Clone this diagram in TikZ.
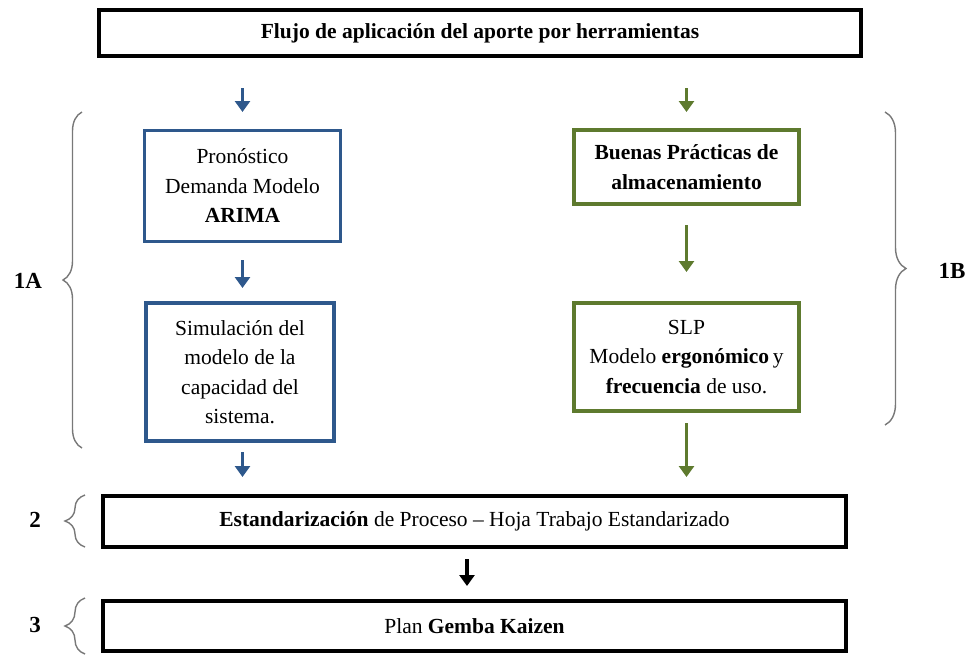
\documentclass[tikz,border=0pt]{standalone}
\usepackage{fontspec}
\setmainfont{Liberation Serif}
\usetikzlibrary{arrows.meta,decorations.pathreplacing}
\definecolor{bblue}{RGB}{46,88,140}
\definecolor{ggreen}{RGB}{94,122,46}
\definecolor{bracegray}{RGB}{120,120,120}
\tikzset{
  txt/.style={font=\fontsize{21.5}{29.5}\selectfont, align=center, inner sep=0pt, outer sep=0pt},
  blackbox/.style={txt, draw=black, line width=4.5pt, fill=white},
  bluebox/.style={txt, draw=bblue, line width=3.8pt, fill=white},
  greenbox/.style={txt, draw=ggreen, line width=3.8pt, fill=white},
  arr/.style={line width=3.8pt, -{Triangle[length=11pt,width=15pt]}},
  barr/.style={arr, draw=bblue, fill=bblue},
  garr/.style={arr, draw=ggreen, fill=ggreen},
  karr/.style={arr, draw=black, fill=black},
  bracedec/.style={draw=bracegray, line width=1.4pt, decorate, decoration={brace, amplitude=#1}},
  lab/.style={font=\fontsize{23}{26}\selectfont\bfseries, inner sep=0pt}
}
\begin{document}
\begin{tikzpicture}[x=1pt,y=-1pt]
\useasboundingbox (0,0) rectangle (972,654);
% boxes
\node[blackbox, minimum width=762pt, minimum height=46pt] (title) at (480,33) {\textbf{Flujo de aplicación del aporte por herramientas}};
\node[bluebox, minimum width=196pt, minimum height=111pt] (L1) at (242.5,186) {Pronóstico\\Demanda Modelo\\\textbf{ARIMA}};
\node[bluebox, minimum width=188pt, minimum height=138pt] (L2) at (240,372) {Simulación del\\modelo de la\\capacidad del\\sistema.};
\node[greenbox, minimum width=225pt, minimum height=74pt] (R1) at (686.5,167) {\textbf{Buenas Prácticas de}\\\textbf{almacenamiento}};
\node[greenbox, minimum width=225pt, minimum height=108pt] (R2) at (686.5,357) {SLP\\Modelo \textbf{ergonómico}\,y\\\textbf{frecuencia} de uso.};
\node[blackbox, line width=4pt, minimum width=743pt, minimum height=51pt] (S) at (474.5,521.5) {\textbf{Estandarización} de Proceso – Hoja Trabajo Estandarizado};
\node[blackbox, line width=4pt, minimum width=743pt, minimum height=50pt] (G) at (474.5,626) {Plan \textbf{Gemba Kaizen}};
% arrows
\draw[barr, shorten <=32pt, shorten >=18.5pt] (title.south -| L1.north) -- (L1.north);
\draw[barr, shorten <=18.5pt, shorten >=15pt] (L1.south) -- (L1.south |- L2.north);
\draw[barr, shorten <=11pt, shorten >=19pt] (L1.south |- L2.south) -- (L1.south |- S.north);
\draw[garr, shorten <=32pt, shorten >=18pt] (title.south -| R1.north) -- (R1.north);
\draw[garr, shorten <=21pt, shorten >=31pt] (R1.south) -- (R2.north);
\draw[garr, shorten <=12pt, shorten >=19pt] (R2.south) -- (R2.south |- S.north);
\draw[karr, shorten <=12pt, shorten >=15pt] (S.south -| 467,0) -- (G.north -| 467,0);
% braces
\coordinate (b1a) at (82,448); \coordinate (b1b) at (82,112);
\draw[bracedec=19pt] (b1a) -- (b1b);
\coordinate (b2a) at (885,112); \coordinate (b2b) at (885,425);
\draw[bracedec=21pt] (b2a) -- (b2b);
\coordinate (b3a) at (85,547); \coordinate (b3b) at (85,495);
\draw[bracedec=20pt] (b3a) -- (b3b);
\coordinate (b4a) at (85,654); \coordinate (b4b) at (85,598);
\draw[bracedec=20pt] (b4a) -- (b4b);
% labels
\node[lab] (l1a) at (28,281) {1A};
\node[lab] (l1b) at (952,271) {1B};
\node[lab] (l2) at (35,520) {2};
\node[lab] (l3) at (35,625) {3};
\end{tikzpicture}
\end{document}
